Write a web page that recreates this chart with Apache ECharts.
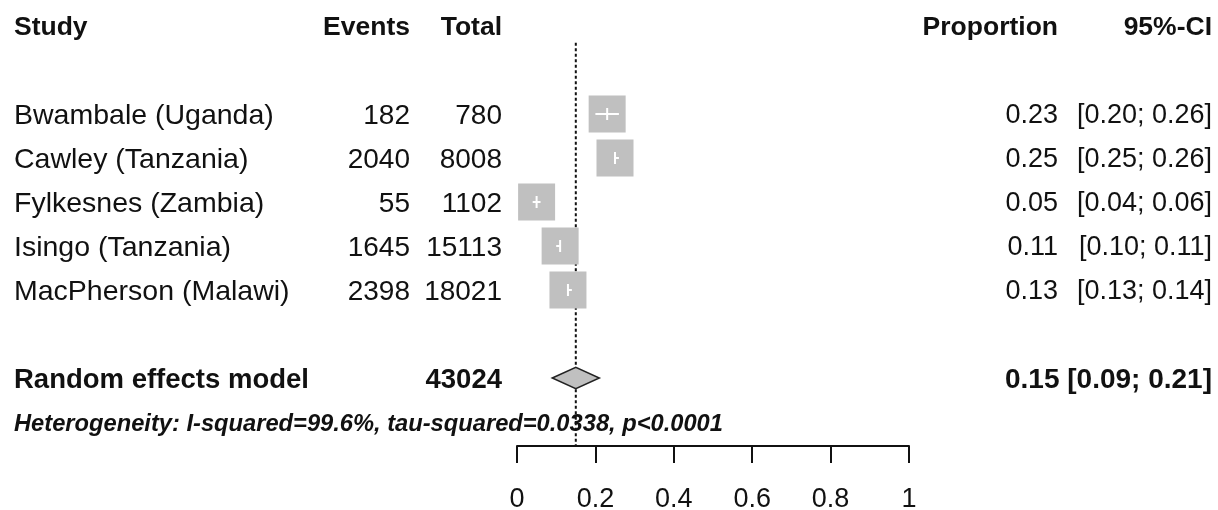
<!DOCTYPE html>
<html><head><meta charset="utf-8">
<script src="https://cdn.jsdelivr.net/npm/echarts@6/dist/echarts.min.js"></script>
<style>html,body{margin:0;padding:0;background:#fff}#c{width:1218px;height:510px}</style>
</head><body><div id="c"></div>
<script>
// ---- data ----
const studies = ["Bwambale (Uganda)", "Cawley (Tanzania)", "Fylkesnes (Zambia)", "Isingo (Tanzania)", "MacPherson (Malawi)"];
const events = [182, 2040, 55, 1645, 2398];
const totals = [780, 8008, 1102, 15113, 18021];
const proportions = [0.23, 0.25, 0.05, 0.11, 0.13];
const ciLower = [0.20, 0.25, 0.04, 0.10, 0.13];
const ciUpper = [0.26, 0.26, 0.06, 0.11, 0.14];
const headers = ["Study", "Events", "Total", "Proportion", "95%-CI"];
const modelLabel = "Random effects model";
const pooledTotal = 43024;
const pooledEstimate = 0.15;
const pooledLower = 0.09;
const pooledUpper = 0.21;
const heterogeneityText = "Heterogeneity: I-squared=99.6%, tau-squared=0.0338, p<0.0001";
const xTickLabels = ["0", "0.2", "0.4", "0.6", "0.8", "1"];

// ---- layout (rows) ----
const headerRow = 0, firstStudyRow = 2, modelRow = 8, hetRow = 9;
const studyRows = studies.map((s, i) => firstStudyRow + i);
const colStudy = 14, colEvents = 410, colTotal = 502, colProp = 1058, colCI = 1212;
const FF = '"Liberation Sans", Arial, sans-serif';
const TXT = '#111';
const fmt = v => v.toFixed(2);
const TY = 2; // text baseline nudge

function txt(x, y, s, align, font) {
  return { type: 'text', x: x, y: y + TY, style: { text: s, fill: TXT, align: align, verticalAlign: 'middle', font: font } };
}

const chart = echarts.init(document.getElementById('c'), null, { renderer: 'canvas' });
chart.setOption({
  animation: false,
  backgroundColor: '#fff',
  grid: { left: 517, width: 392, top: 26, height: 420, containLabel: false, outerBoundsMode: 'none' },
  xAxis: {
    type: 'value', min: 0, max: 1, interval: 0.2, position: 'bottom',
    axisLine: { show: true, onZero: false, lineStyle: { color: '#111', width: 2 } },
    axisTick: { show: true, length: 17, lineStyle: { color: '#111', width: 2 } },
    splitLine: { show: false },
    axisLabel: { color: TXT, fontSize: 27, fontFamily: FF, margin: 40,
      formatter: v => xTickLabels[Math.round(v / 0.2)] }
  },
  yAxis: { type: 'value', min: 0, max: 420 / 44, inverse: true, show: false },
  series: [
    { // reference dotted line at pooled estimate
      type: 'custom', clip: false, silent: true,
      data: [[pooledEstimate]],
      renderItem: (p, api) => {
        const a = api.coord([api.value(0), 0.38]);
        const b = api.coord([api.value(0), 420 / 44]);
        return { type: 'line', shape: { x1: a[0], y1: a[1], x2: b[0], y2: b[1] },
          style: { stroke: '#111', lineWidth: 2, lineDash: [3, 2.5] } };
      }
    },
    { // studies: squares, CIs and table text
      type: 'custom', clip: false, silent: true,
      data: studies.map((s, i) => [proportions[i], studyRows[i], ciLower[i], ciUpper[i], i]),
      renderItem: (p, api) => {
        const k = api.value(1), i = api.value(4);
        const c = api.coord([api.value(0), k]);
        const lo = api.coord([api.value(2), k])[0];
        const hi = api.coord([api.value(3), k])[0];
        const y = c[1], h = 18.5;
        const nameF = '28.5px ' + FF, numF = '28px ' + FF, rightF = '27px ' + FF;
        return { type: 'group', children: [
          { type: 'rect', shape: { x: c[0] - h, y: y - h, width: 2 * h, height: 2 * h }, style: { fill: '#c0c0c0' } },
          { type: 'line', shape: { x1: lo, y1: y, x2: hi, y2: y }, style: { stroke: '#fff', lineWidth: 2 } },
          { type: 'line', shape: { x1: c[0], y1: y - 6, x2: c[0], y2: y + 6 }, style: { stroke: '#fff', lineWidth: 2 } },
          txt(colStudy, y, studies[i], 'left', nameF),
          txt(colEvents, y, String(events[i]), 'right', numF),
          txt(colTotal, y, String(totals[i]), 'right', numF),
          txt(colProp, y, fmt(proportions[i]), 'right', rightF),
          txt(colCI, y, '[' + fmt(ciLower[i]) + '; ' + fmt(ciUpper[i]) + ']', 'right', rightF)
        ] };
      }
    },
    { // pooled diamond + header + model row + heterogeneity
      type: 'custom', clip: false, silent: true,
      data: [[pooledEstimate, modelRow, pooledLower, pooledUpper]],
      renderItem: (p, api) => {
        const k = api.value(1);
        const L = api.coord([api.value(2), k]);
        const R = api.coord([api.value(3), k]);
        const T = api.coord([api.value(0), k - 0.24]);
        const B = api.coord([api.value(0), k + 0.24]);
        const yH = api.coord([0, headerRow])[1];
        const yM = L[1];
        const yHet = api.coord([0, hetRow])[1];
        const headF = 'bold 26.5px ' + FF;
        const bold = 'bold 27.5px ' + FF;
        return { type: 'group', children: [
          { type: 'polygon', shape: { points: [L, T, R, B] }, style: { fill: '#c0c0c0', stroke: '#222', lineWidth: 1.5 } },
          txt(colStudy, yH, headers[0], 'left', headF),
          txt(colEvents, yH, headers[1], 'right', headF),
          txt(colTotal, yH, headers[2], 'right', headF),
          txt(colProp, yH, headers[3], 'right', headF),
          txt(colCI, yH, headers[4], 'right', headF),
          txt(colStudy, yM, modelLabel, 'left', bold),
          txt(colTotal, yM, String(pooledTotal), 'right', bold),
          txt(colCI, yM, fmt(pooledEstimate) + ' [' + fmt(pooledLower) + '; ' + fmt(pooledUpper) + ']', 'right', 'bold 28px ' + FF),
          txt(colStudy, yHet, heterogeneityText, 'left', 'italic bold 23.7px ' + FF)
        ] };
      }
    }
  ]
});
</script></body></html>
